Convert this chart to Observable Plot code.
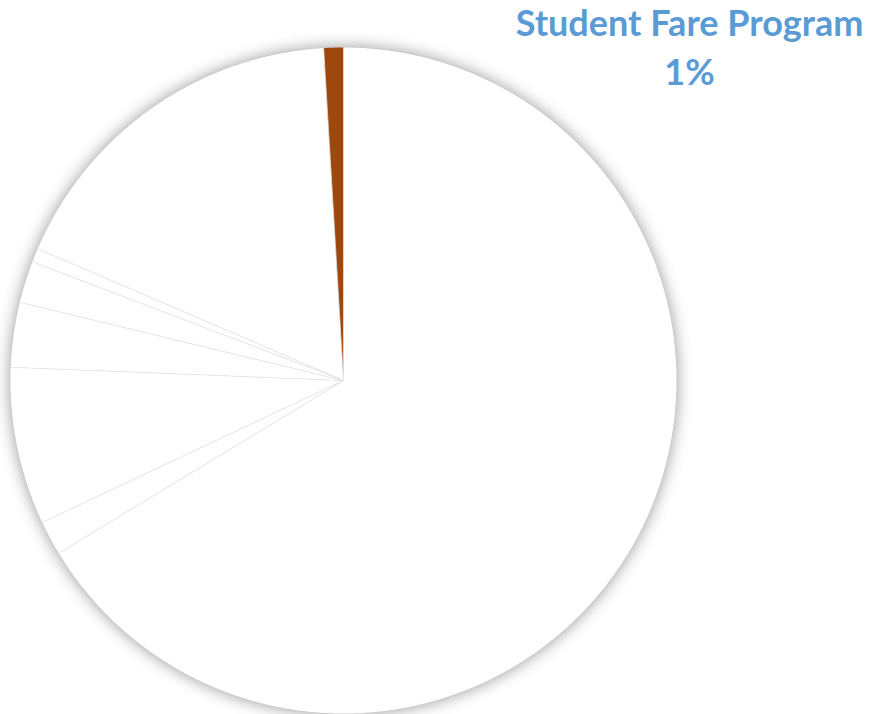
<!DOCTYPE html>
<html>
<head>
<meta charset="utf-8">
<script src="https://cdn.jsdelivr.net/npm/d3@7"></script>
<script src="https://cdn.jsdelivr.net/npm/@observablehq/plot@0.6"></script>
<style>
  html, body { margin: 0; padding: 0; background: #ffffff; }
  .pie g[aria-label="line"] { filter: drop-shadow(0px 0px 8px rgba(0,0,0,0.42)); }
</style>
</head>
<body>
<div id="chart"></div>
<script>
// Data (shares of the pie, percent), in clockwise order from 12 o'clock
const categories = ["Category 1", "Category 2", "Category 3", "Category 4", "Category 5", "Category 6", "Category 7", "Student Fare Program"];
const values = [66.33, 1.67, 7.64, 3.14, 2.03, 0.67, 17.58, 0.95];
const colors = ["#ffffff", "#ffffff", "#ffffff", "#ffffff", "#ffffff", "#ffffff", "#ffffff", "#9E480E"];
const labelText = ["Student Fare Program", "1%"];

const data = categories.map((name, i) => ({name, value: values[i]}));
const arcs = d3.pie().sort(null).value(d => d.value)(data);

// Slice outlines in unit-circle data space (y up), computed from the pie layout
const pts = [];
for (const a of arcs) {
  const n = Math.max(2, Math.ceil((a.endAngle - a.startAngle) / (Math.PI / 720)));
  pts.push({name: a.data.name, x: 0, y: 0});
  for (let k = 0; k <= n; k++) {
    const t = a.startAngle + (a.endAngle - a.startAngle) * k / n;
    pts.push({name: a.data.name, x: Math.sin(t), y: Math.cos(t)});
  }
  pts.push({name: a.data.name, x: 0, y: 0});
}
// Slice separators (radial edges)
const edges = arcs.map(a => ({name: a.data.name, x1: 0, y1: 0, x2: Math.sin(a.startAngle), y2: Math.cos(a.startAngle)}));

const W = 871, H = 714;
const cx = 343, cy = 380, R = 333;

const chart = Plot.plot({
  width: W,
  height: H,
  margin: 0,
  className: "pie",
  style: {background: "transparent", overflow: "visible"},
  x: {domain: [-1, 1], range: [cx - R, cx + R], axis: null},
  y: {domain: [-1, 1], range: [cy + R, cy - R], axis: null},
  color: {domain: categories, range: colors},
  marks: [
    Plot.line(pts, {x: "x", y: "y", z: "name", fill: "name", stroke: "none", curve: "linear"}),
    Plot.link(edges, {x1: "x1", y1: "y1", x2: "x2", y2: "y2", stroke: "#e6e6e6", strokeWidth: 0.8}),
    Plot.text([labelText.join("\n")], {
      frameAnchor: "top",
      dx: 689 - W / 2,
      dy: 1,
      lineAnchor: "top",
      lineHeight: 1.36,
      text: d => d,
      fill: "#5B9BD5",
      fontFamily: "Lato",
      fontWeight: "bold",
      fontSize: 36,
      textAnchor: "middle"
    })
  ]
});
document.getElementById("chart").appendChild(chart);
</script>
</body>
</html>
